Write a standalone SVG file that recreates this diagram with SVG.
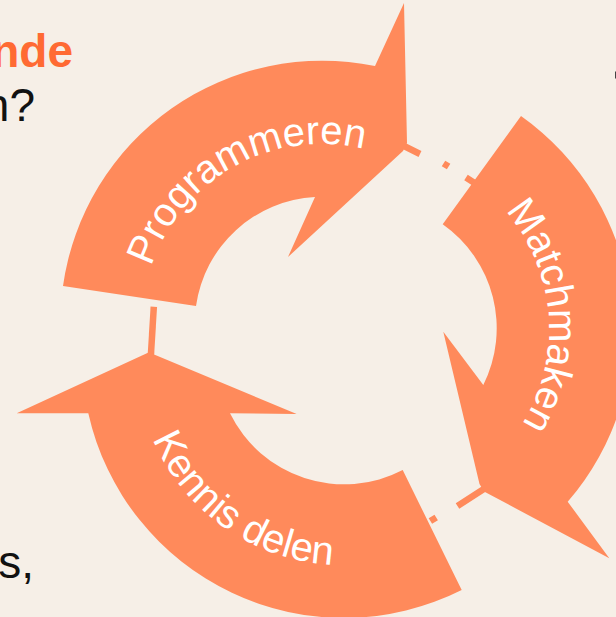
<svg xmlns="http://www.w3.org/2000/svg" width="616" height="617" viewBox="0 0 616 617">
  <style>
    .arrow { fill: #FF8A5B; }
    .conn { fill: none; stroke: #FF8A5B; stroke-width: 6.5; stroke-linecap: butt; }
    .label { fill: #FFFFFF; font-family: "Liberation Sans", Arial, sans-serif; font-size: 40px; }
    .side { font-family: "Liberation Sans", Arial, sans-serif; font-size: 46px; }
  </style>
  <defs>
    <!-- baselines for the arrow labels -->
    <path id="arcProg" d="M151.8,382.6 A180,180 0 0 1 461.9,210.7"/>
    <path id="arcMatch" d="M385.3,148.8 A181,181 0 0 1 413.3,504.2"/>
    <path id="arcKennis" d="M156,269.4 A207,207 0 0 0 490.4,503.4"/>
  </defs>

  <rect width="616" height="617" fill="#F6EFE7"/>

  <!-- side text cut off by the frame -->
  <text class="side" x="73" y="67" text-anchor="end" font-weight="bold" fill="#FF6A33">nde</text>
  <text class="side" x="35" y="121" text-anchor="end" fill="#111111">n?</text>
  <text class="side" x="34" y="578" text-anchor="end" fill="#111111" font-size="40">s,</text>
  <rect x="615" y="71.5" width="1.5" height="7" fill="#444444"/>

  <!-- dash-dot links between the arrows -->
  <g id="connectors">
    <path class="conn" d="M398,143 L420,154 M443.5,163.4 L448.6,166.6 M466,177.5 L480,186.5"/>
    <path class="conn" d="M490,485 L457.5,506 M436.2,517.5 L430.4,521.1"/>
    <path class="conn" stroke-width="7" d="M150.5,362 L153.8,306.7"/>
  </g>

  <g id="programmeren">
    <path class="arrow" d="M63,286 A262,262 0 0 1 375,66 L404,3 L407,143 L403,151 L288,257 L315,197 A127,127 0 0 0 196,306 Z"/>
    <text class="label"><textPath href="#arcProg" startOffset="50%" text-anchor="middle">Programmeren</textPath></text>
  </g>

  <g id="matchmaken">
    <path class="arrow" d="M521,116 A262,262 0 0 1 567.7,501.7 L609.3,558.3 L484,491.5 L479.5,484 L443.3,331.7 L483.3,385 A127,127 0 0 0 442.7,224.3 Z"/>
    <text class="label" font-size="41"><textPath href="#arcMatch" startOffset="50%" text-anchor="middle">Matchmaken</textPath></text>
  </g>

  <g id="kennis-delen">
    <path class="arrow" d="M461.7,590 A262,262 0 0 1 88.3,413.3 L16.7,413.3 L148.5,352.5 L156.5,355.5 L296.7,414 L230,413.3 A127,127 0 0 0 402.7,470 Z"/>
    <text class="label" font-size="42"><textPath href="#arcKennis" startOffset="50%" text-anchor="middle">Kennis delen</textPath></text>
  </g>
</svg>
